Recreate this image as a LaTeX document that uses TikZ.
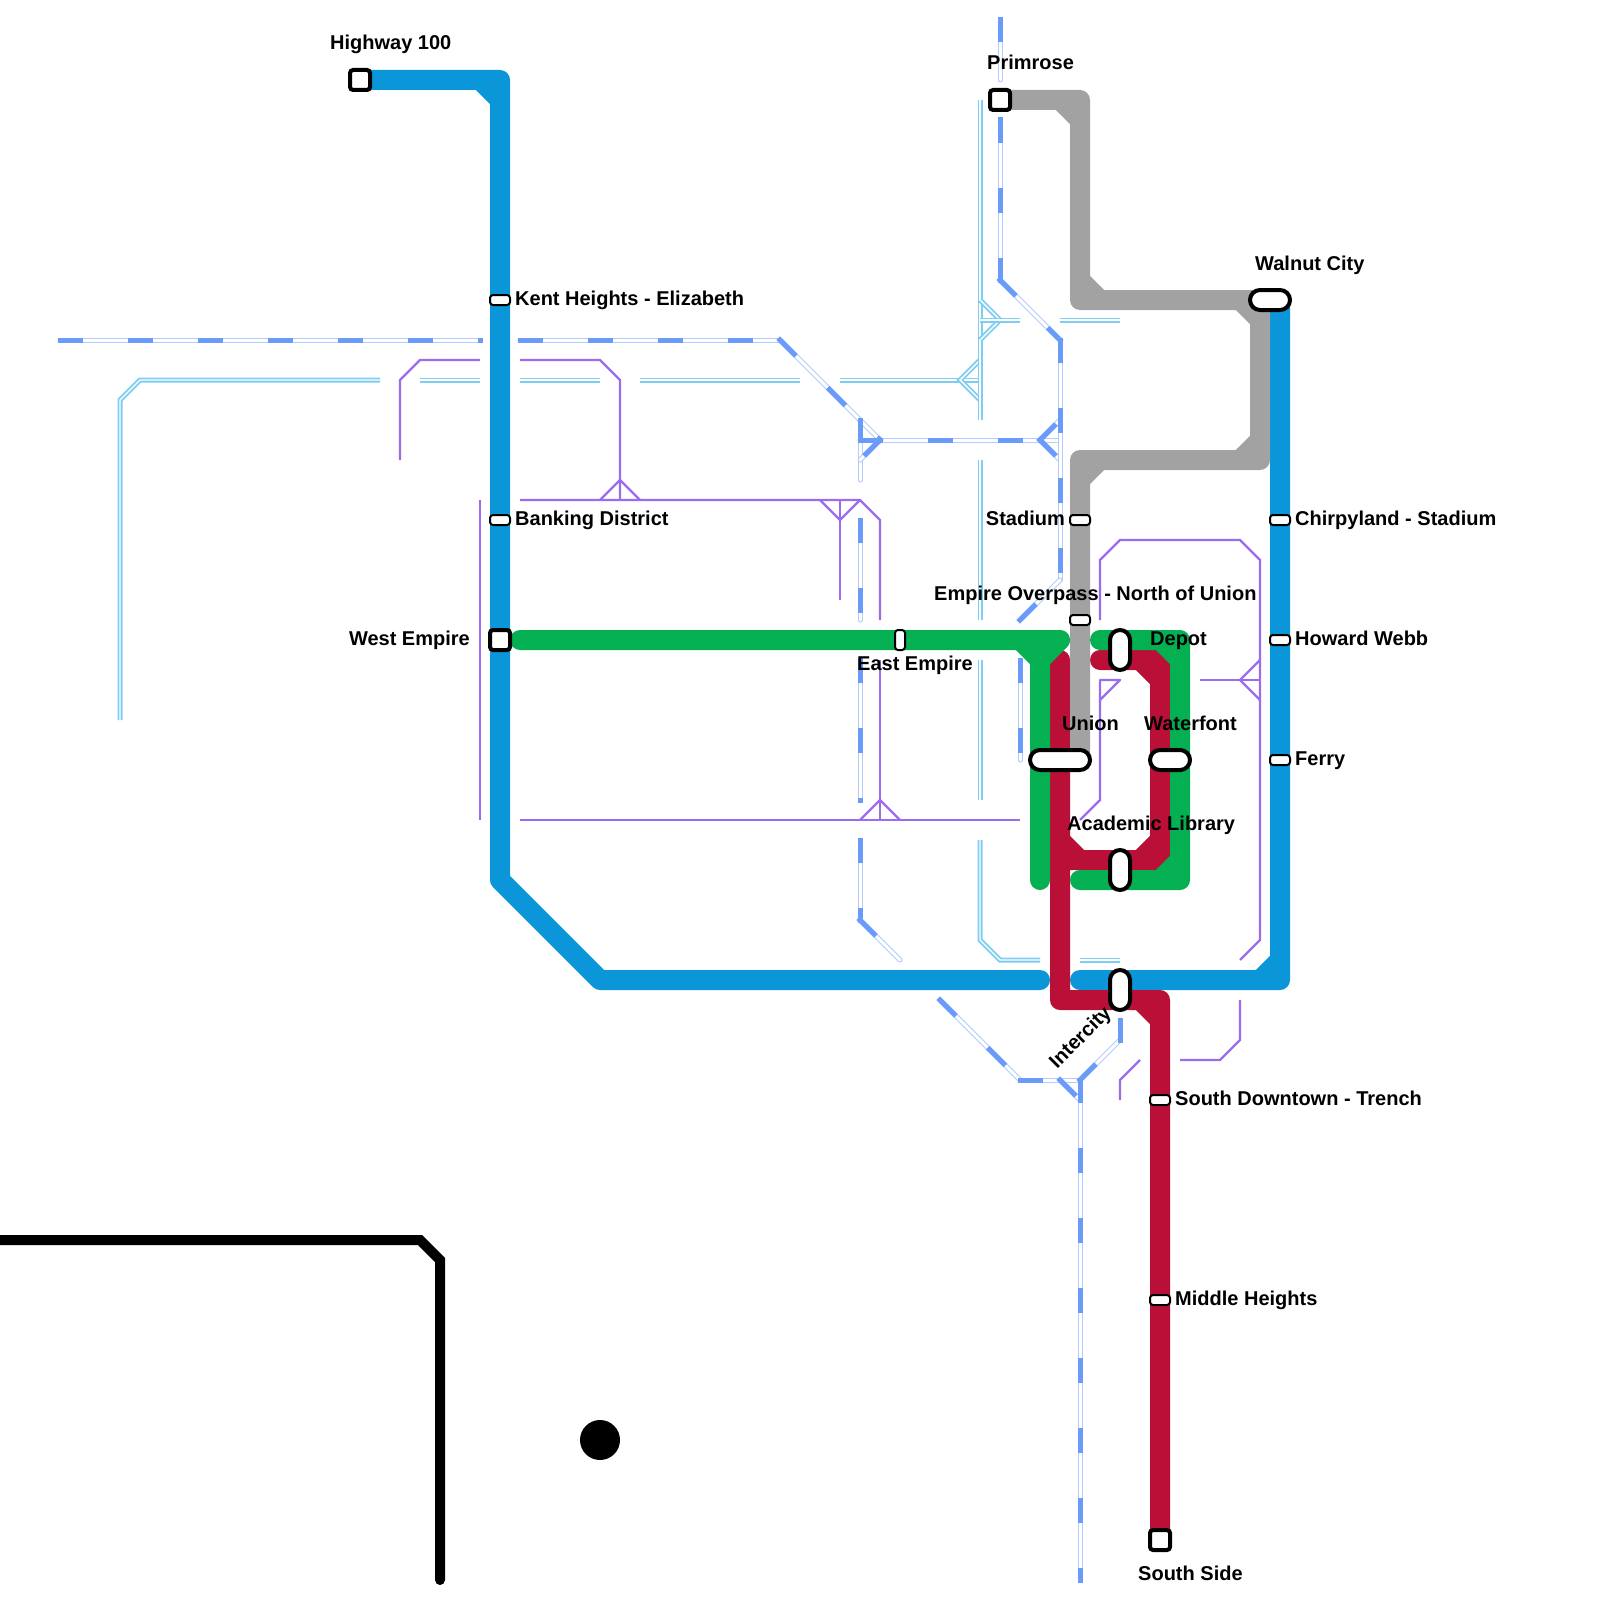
\documentclass[tikz,border=0pt]{standalone}
\usepackage{fontspec}
\setmainfont{Liberation Sans}
\usetikzlibrary{calc, positioning}

\begin{document}
\begin{tikzpicture}[x=1pt,y=-1pt,
  metroline/.style={line width=20pt,line join=round,line cap=round},
  railline/.style={draw=railpale,line width=5pt,line cap=round,
    postaction={draw=white,line width=3pt,line cap=round},
    postaction={draw=railblue,line width=5pt,line cap=rect,dash pattern=on 20pt off 50pt}},
  waterline/.style={draw=waterblue,line width=5pt,
    postaction={draw=white,line width=1.4pt}},
  busline/.style={draw=buspurple,line width=2.4pt,line join=round},
  stopbox/.style={draw=black,fill=white,inner sep=0pt},
  squarestop/.style={stopbox,line width=4pt,minimum width=20pt,minimum height=20pt,rounded corners=3pt},
  widepill/.style={stopbox,line width=4pt,minimum width=40pt,minimum height=20pt,rounded corners=10pt},
  unionpill/.style={stopbox,line width=4pt,minimum width=60pt,minimum height=20pt,rounded corners=10pt},
  tallpill/.style={stopbox,line width=4pt,minimum width=20pt,minimum height=40pt,rounded corners=10pt},
  smallstop/.style={stopbox,line width=2pt,minimum width=20pt,minimum height=10pt,rounded corners=3pt},
  smalltall/.style={stopbox,line width=2pt,minimum width=10pt,minimum height=20pt,rounded corners=3pt},
  stoplabel/.style={font=\fontsize{20}{24}\selectfont\bfseries,inner sep=0pt,text=black}]
\definecolor{metroblue}{HTML}{0A96D8}
\definecolor{metrored}{HTML}{BA1037}
\definecolor{metrogreen}{HTML}{04B052}
\definecolor{metrogrey}{HTML}{A2A2A2}
\definecolor{railblue}{HTML}{6A9BF8}
\definecolor{railpale}{HTML}{B4CCFB}
\definecolor{waterblue}{HTML}{7FCDF0}
\definecolor{buspurple}{HTML}{9B6CF0}

\useasboundingbox (0,0) rectangle (1600,1600);
\fill[white] (0,0) rectangle (1600,1600);

\foreach \stop/\xpos/\ypos in {highwaypt/360/80,primrosept/1000/100,walnutpt/1270/300,westpt/500/640,southpt/1160/1540} {
  \coordinate (\stop) at (\xpos,\ypos);
}

\foreach \xa/\ya/\xb/\yb in {60/340/480/340,520/340/780/340,780/340/880/440,860/420/860/480,
  860/440/1060/440,880/440/860/460,1040/440/1060/420,1040/440/1060/460,
  1000/20/1000/80,1000/120/1000/280,1000/280/1060/340,1060/340/1060/580,1020/620/1060/580,
  860/520/860/620,860/660/860/800,860/840/860/920,860/920/900/960,1020/660/1020/760,
  940/1000/1020/1080,1020/1080/1080/1080,1060/1080/1080/1100,1080/1080/1120/1040,
  1120/1020/1120/1040,1080/1080/1080/1580} {
  \draw[railline] (\xa,\ya) -- (\xb,\yb);
}

\draw[waterline] (120,720) -- (120,400) -- (140,380) -- (380,380);
\draw[waterline] (420,380) -- (480,380);
\draw[waterline] (520,380) -- (600,380);
\draw[waterline] (640,380) -- (800,380);
\draw[waterline] (840,380) -- (980,380);
\draw[waterline] (980,360) -- (960,380) -- (980,400);
\draw[waterline] (980,100) -- (980,420);
\draw[waterline] (980,300) -- (1000,320) -- (980,340);
\draw[waterline] (980,320) -- (1020,320);
\draw[waterline] (1060,320) -- (1120,320);
\draw[waterline] (980,460) -- (980,620);
\draw[waterline] (980,660) -- (980,800);
\draw[waterline] (980,840) -- (980,940) -- (1000,960) -- (1040,960);
\draw[waterline] (1080,960) -- (1120,960);

\draw[busline] (400,460) -- (400,380) -- (420,360) -- (480,360);
\draw[busline] (520,360) -- (600,360) -- (620,380) -- (620,500);
\draw[busline] (600,500) -- (620,480) -- (640,500);
\draw[busline] (520,500) -- (860,500) -- (880,520) -- (880,620);
\draw[busline] (820,500) -- (840,520) -- (860,500);
\draw[busline] (840,500) -- (840,600);
\draw[busline] (480,500) -- (480,820);
\draw[busline] (880,660) -- (880,820);
\draw[busline] (860,820) -- (880,800) -- (900,820);
\draw[busline] (520,820) -- (1020,820);
\draw[busline] (1100,620) -- (1100,560) -- (1120,540) -- (1240,540) -- (1260,560) -- (1260,940) -- (1240,960);
\draw[busline] (1100,700) -- (1120,680) -- (1100,680) -- (1100,800) -- (1080,820);
\draw[busline] (1200,680) -- (1260,680);
\draw[busline] (1260,660) -- (1240,680) -- (1260,700);
\draw[busline] (1240,1000) -- (1240,1040) -- (1220,1060) -- (1180,1060);
\draw[busline] (1140,1060) -- (1120,1080) -- (1120,1100);

\draw[metroblue,metroline] (highwaypt) -- (500,80) -- (500,880) -- (600,980) -- (1040,980)
  (480,80) -- (500,100);
\draw[metroblue,metroline] (1080,980) -- (1280,980) -- (1280,300)
  (1260,980) -- (1280,960);
\draw[metrored,metroline] (1060,660) -- (1060,1000) -- (1160,1000) -- (southpt)
  (1140,1000) -- (1160,1020);
\draw[metrored,metroline] (1060,840) -- (1060,860) -- (1160,860) -- (1160,660) -- (1100,660)
  (1060,840) -- (1080,860) (1140,860) -- (1160,840) (1160,680) -- (1140,660);
\draw[metrogrey,metroline] (primrosept) -- (1080,100) -- (1080,300) -- (1260,300) -- (1260,460) -- (1080,460) -- (1080,760)
  (1060,100) -- (1080,120) (1080,280) -- (1100,300) (1240,300) -- (1260,320)
  (1260,440) -- (1240,460) (1100,460) -- (1080,480);
\draw[metrogreen,metroline] (520,640) -- (1060,640) -- (1040,660) -- (1040,880);
\draw[metrogreen,metroline] (1020,640) -- (1040,660);
\draw[metrogreen,metroline] (1100,640) -- (1180,640) -- (1180,880) -- (1080,880)
  (1160,640) -- (1180,660) (1180,860) -- (1160,880);

\draw[line width=10pt,line join=miter,line cap=round] (-10,1240) -- (420,1240) -- (440,1260) -- (440,1580);
\fill[black] (600,1440) circle[radius=20];

\node[squarestop] (highway) at (highwaypt) {};
\node[squarestop] (primrose) at (primrosept) {};
\node[squarestop] (west) at (westpt) {};
\node[squarestop] (south) at (southpt) {};
\node[widepill] (walnut) at (walnutpt) {};
\node[widepill] (waterfont) at (1170,760) {};
\node[unionpill] (union) at (1060,760) {};
\node[tallpill] (depot) at (1120,650) {};
\node[tallpill] (academic) at (1120,870) {};
\node[tallpill] (intercity) at (1120,990) {};
\node[smalltall] (eastempire) at (900,640) {};

\foreach \stop/\xpos/\ypos in {kent/500/300,banking/500/520,stadium/1080/520,overpass/1080/620,
  chirpyland/1280/520,howard/1280/640,ferry/1280/760,downtown/1160/1100,middle/1160/1300} {
  \node[smallstop] (\stop) at (\xpos,\ypos) {};
}

\foreach \stop/\xpos/\ypos/\stopname in {highwaylabel/330/50/Highway 100,primroselabel/987/70/Primrose,
  walnutlabel/1255/270/Walnut City,kentlabel/515/305/Kent Heights - Elizabeth,
  bankinglabel/515/525/Banking District,chirpylabel/1295/525/Chirpyland - Stadium,
  howardlabel/1295/645/Howard Webb,ferrylabel/1295/765/Ferry,downtownlabel/1175/1105/South Downtown - Trench,
  middlelabel/1175/1305/Middle Heights,overpasslabel/934/600/Empire Overpass - North of Union,
  depotlabel/1150/645/Depot,eastlabel/857/670/East Empire,unionlabel/1062/730/Union,
  waterfontlabel/1144/730/Waterfont,academiclabel/1067/830/Academic Library,southlabel/1138/1580/South Side} {
  \node[stoplabel,anchor=base west] (\stop) at (\xpos,\ypos) {\stopname};
}
\node[stoplabel,anchor=base east] (stadiumlabel) at (1065,525) {Stadium};
\node[stoplabel,anchor=base east] (westlabel) at (470,645) {West Empire};
\node[stoplabel,rotate=45] (intercitylabel) at (1081,1038) {Intercity};
\end{tikzpicture}
\end{document}
